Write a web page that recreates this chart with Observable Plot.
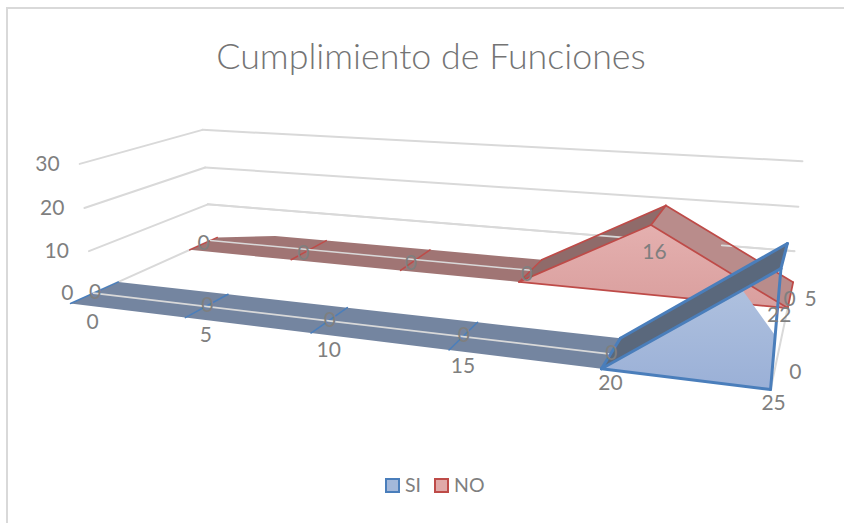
<!DOCTYPE html>
<html><head><meta charset="utf-8">
<script src="https://cdn.jsdelivr.net/npm/d3@7"></script>
<script src="https://cdn.jsdelivr.net/npm/@observablehq/plot@0.6"></script>
<style>
html,body{margin:0;padding:0;background:#fff;}
#chart{position:relative;width:844px;height:523px;overflow:hidden;font-family:Lato,sans-serif;color:#7f7f7f;}
#frame{position:absolute;left:6px;top:7px;width:860px;height:540px;border:2px solid #d9d9d9;box-sizing:border-box;}
#title{position:absolute;left:0;top:34px;width:862px;text-align:center;font-size:35.8px;line-height:44px;font-weight:300;color:#747474;}
#plot{position:absolute;left:0;top:100px;}
#legend{position:absolute;left:385px;top:473px;height:24px;display:flex;align-items:center;font-size:19.5px;line-height:24px;}
.sw{width:11px;height:11px;border:2px solid;display:inline-block;margin-right:5px;}
</style></head><body>
<div id="chart">
<div id="frame"></div>
<div id="title">Cumplimiento de Funciones</div>
<div id="plot"></div>
<div id="legend"><span class="sw" style="background:#a3b8da;border-color:#4a7ebb"></span><span style="margin-right:13px">SI</span><span class="sw" style="background:#e0a9a8;border-color:#be4b48"></span><span>NO</span></div>
</div>
<script>
const categories = [0, 5, 10, 15, 20, 25];
const siValues = [0, 0, 0, 0, 0, 22];
const noValues = [0, 0, 0, 0, 16, 0];
const valueTicks = [0, 10, 20, 30];
const seriesTicks = ["0", "5"];

// 3D to screen camera: u along categories, v depth, h value
const catMax = 25, valMax = 30;
function project(cat, val, v) {
  const u = cat / catMax, h = val / valMax;
  const w = 1 - 0.215 * u + 0.2143 * v - 0.036 * h;
  return [(534.5 * u + 185 * v + 70 - 17 * h) / w, (2.36 * u - 11.57 * v + 303 - 139 * h) / w];
}
const SI = {v0: 0, v1: 0.3, vals: siValues, line: "#4a7ebb", flat: "#7485a0", rise: "#5a687c", front: "url(#siFront)", sw: 3};
const NO = {v0: 0.825, v1: 1.17, vals: noValues, line: "#be4b48", flat: "#a07574", rise: "#8f6b6a", fall: "#b98c8b", front: "url(#noFront)", sw: 1.75};
const P = (cat, val, v) => ({p: project(cat, val, v)});
const X = d => d.p[0], Y = d => d.p[1];

function poly(pts, fill) {
  return Plot.line(pts, {x: X, y: Y, fill, stroke: "none", curve: "linear"});
}
function seg(a, b, stroke, strokeWidth) {
  return Plot.line([a, b], {x: X, y: Y, stroke, strokeWidth, curve: "linear"});
}
function faces(s, backLeft) {
  const out = [];
  for (let i = 0; i < categories.length - 1; i++) {
    const a = categories[i], b = categories[i + 1], va = s.vals[i], vb = s.vals[i + 1];
    const fill = vb > va ? s.rise : vb < va ? s.fall : s.flat;
    const back = i === 0 && backLeft ? backLeft : [P(a, va, s.v1)];
    out.push(poly([P(a, va, s.v0), P(b, vb, s.v0), P(b, vb, s.v1), ...back], fill));
  }
  return out;
}
const backV = 1, frontV = 0.139;
const gridColor = "#d9d9d9";
const marks = [];
// walls
for (const t of valueTicks) {
  marks.push(seg(P(0, t, frontV), P(0, t, backV), gridColor, 2));
  marks.push(seg(P(0, t, backV), P(catMax, t, backV), gridColor, 2));
}
marks.push(seg(P(catMax, 0, 0), P(catMax, 0, backV), gridColor, 2));
// NO series: the far corner is cut by the wall at category 0
const noCorner = 1.06;
marks.push(...faces(NO, [P(2.4, 0, NO.v1), P(0, 0, noCorner)]));
marks.push(seg(P(0, 0, NO.v0), P(0, 0, noCorner), NO.line, 1.5));
for (const c of [5, 10, 15]) marks.push(seg(P(c, 0, NO.v0), P(c, 0, NO.v1), NO.line, 1.5));
marks.push(seg(P(0, 0, backV), P(15, 0, backV), gridColor, 1.5));
marks.push(seg(P(0, 10, backV), P(18.9, 10, backV), gridColor, 1.75));
marks.push(poly([P(15, 0, NO.v0), P(20, 16, NO.v0), P(25, 0, NO.v0)], NO.front));
marks.push(seg(P(22.4, 10, backV), P(25, 10, backV), gridColor, 1.75));
for (const [a, b] of [
  [P(15, 0, NO.v0), P(20, 16, NO.v0)], [P(20, 16, NO.v0), P(25, 0, NO.v0)], [P(15, 0, NO.v0), P(25, 0, NO.v0)],
  [P(15, 0, NO.v1), P(20, 16, NO.v1)], [P(20, 16, NO.v1), P(25, 0, NO.v1)], [P(20, 16, NO.v0), P(20, 16, NO.v1)],
  [P(25, 0, NO.v0), P(25, 0, NO.v1)]
]) marks.push(seg(a, b, NO.line, NO.sw));
// SI series
marks.push(...faces(SI));
for (const c of [0, 5, 10, 15]) marks.push(seg(P(c, 0, SI.v0), P(c, 0, SI.v1), SI.line, 1.5));
marks.push(seg(P(0, 0, frontV), P(20, 0, frontV), gridColor, 1.75));
marks.push(poly([P(20, 0, SI.v0), P(24, 17.6, SI.v0), P(25, 10, SI.v0), P(25, 0, SI.v0)], SI.front));
for (const [a, b] of [
  [P(20, 0, SI.v0), P(25, 22, SI.v0)], [P(20, 0, SI.v1), P(25, 22, SI.v1)], [P(20, 0, SI.v0), P(20, 0, SI.v1)],
  [P(25, 22, SI.v0), P(25, 22, SI.v1)], [P(20, 0, SI.v0), P(25, 0, SI.v0)], [P(25, 0, SI.v0), P(25, 22, SI.v0)]
]) marks.push(seg(a, b, SI.line, SI.sw));

// text
const textStyle = {fill: "#7f7f7f", fontSize: 21, fontFamily: "Lato, sans-serif", textAnchor: "middle", lineAnchor: "middle"};
const lab = (rows, extra = {}) => Plot.text(rows, {x: X, y: Y, text: "t", ...textStyle, ...extra});
const dataLabels = [];
categories.forEach((c, i) => {
  dataLabels.push({t: String(siValues[i]), p: project(c, siValues[i] / 2, 0.15)});
  dataLabels.push({t: String(noValues[i]), p: project(c, noValues[i] / 2, 0.94)});
});
marks.push(lab(dataLabels));
marks.push(lab(valueTicks.map(t => ({t: String(t), p: project(0, t, frontV)})), {textAnchor: "end", dx: -20}));
marks.push(lab(categories.map(c => {
  const p = project(c, 0, 0), u = c / catMax;
  return {t: String(c), p: [p[0] + 22 - 19 * u + 14 * u * (1 - u), p[1] + 19 - 5 * u]};
})));
marks.push(lab(seriesTicks.map((s, i) => {
  const p = project(catMax, 0, [0.15, 0.94][i]);
  return {t: s, p: [p[0] + 21, p[1]]};
})));

const chart = Plot.plot({
  width: 844, height: 350,
  margin: 0,
  x: {domain: [0, 844], range: [0, 844], axis: null},
  y: {domain: [100, 450], range: [0, 350], axis: null},
  marks
});
chart.style.overflow = "visible";
document.getElementById("plot").appendChild(chart);
d3.select(chart).insert("defs", ":first-child").html(`
<linearGradient id="siFront" gradientUnits="userSpaceOnUse" x1="0" y1="180" x2="0" y2="300"><stop offset="0" stop-color="#b0c2df"/><stop offset="1" stop-color="#98aed6"/></linearGradient>
<linearGradient id="noFront" gradientUnits="userSpaceOnUse" x1="0" y1="120" x2="0" y2="210"><stop offset="0" stop-color="#e5b1b0"/><stop offset="1" stop-color="#d99e9d"/></linearGradient>`);
</script>
</body></html>
